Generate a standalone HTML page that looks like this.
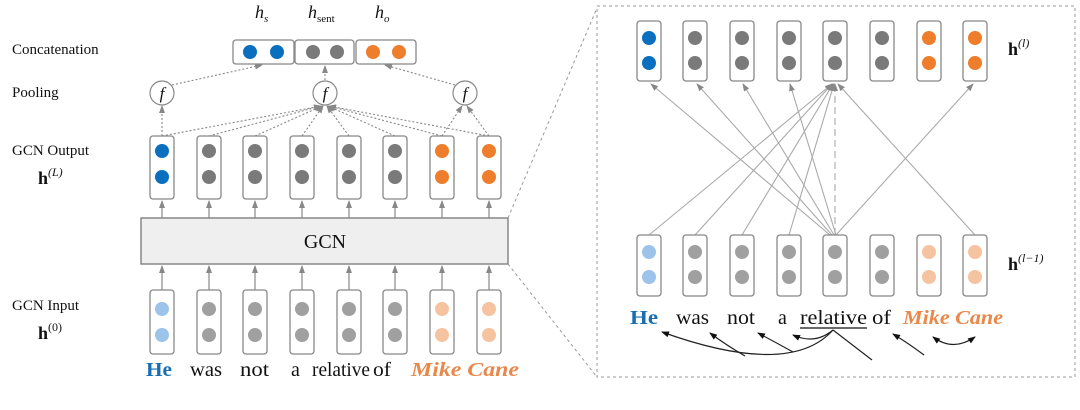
<!DOCTYPE html>
<html><head><meta charset="utf-8"><style>
html,body{margin:0;padding:0;background:#fff;}
svg{display:block;}
text{font-family:"Liberation Serif",serif;fill:#111;}
</style></head><body>
<svg width="1080" height="410" viewBox="0 0 1080 410" xmlns="http://www.w3.org/2000/svg">
<defs>
<marker id="ag" markerWidth="8" markerHeight="8" refX="7" refY="4" orient="auto" markerUnits="userSpaceOnUse"><path d="M0,1 L8,4 L0,7 z" fill="#888"/></marker>
<marker id="ab" markerWidth="8" markerHeight="8" refX="7" refY="4" orient="auto" markerUnits="userSpaceOnUse"><path d="M0,1 L8,4 L0,7 z" fill="#111"/></marker>
<marker id="abs" markerWidth="8" markerHeight="8" refX="1" refY="4" orient="auto" markerUnits="userSpaceOnUse"><path d="M8,1 L0,4 L8,7 z" fill="#111"/></marker>
</defs>

<text x="12" y="54" font-size="15">Concatenation</text>
<text x="12" y="97" font-size="15">Pooling</text>
<text x="12" y="155" font-size="15">GCN Output</text>
<text x="38" y="184" font-size="18" font-weight="bold">h<tspan font-size="12" font-weight="normal" font-style="italic" dy="-8">(L)</tspan></text>
<text x="12" y="310" font-size="15">GCN Input</text>
<text x="38" y="339" font-size="18" font-weight="bold">h<tspan font-size="12" font-weight="normal" dy="-8">(0)</tspan></text>

<text x="255" y="18" font-size="18" font-style="italic">h<tspan font-size="11" dy="4">s</tspan></text>
<text x="308" y="18" font-size="18" font-style="italic">h<tspan font-size="11" font-style="normal" dy="4">sent</tspan></text>
<text x="375" y="18" font-size="18" font-style="italic">h<tspan font-size="11" dy="4">o</tspan></text>

<g stroke="#888" stroke-width="1.3" fill="#fff">
<rect x="233" y="40" width="61" height="24" rx="3"/>
<rect x="295" y="40" width="59" height="24" rx="3"/>
<rect x="356" y="40" width="60" height="24" rx="3"/>
</g>
<g>
<circle cx="250" cy="52" r="7" fill="#0b6fc0"/><circle cx="277" cy="52" r="7" fill="#0b6fc0"/>
<circle cx="313" cy="52" r="7" fill="#7a7a7a"/><circle cx="337" cy="52" r="7" fill="#7a7a7a"/>
<circle cx="373" cy="52" r="7" fill="#ee7d2c"/><circle cx="399" cy="52" r="7" fill="#ee7d2c"/>
</g>

<g stroke="#888" stroke-width="1.1" fill="none" stroke-dasharray="2,2">
<line x1="172" y1="85" x2="262" y2="65" marker-end="url(#ag)"/>
<line x1="325" y1="80" x2="325" y2="66" marker-end="url(#ag)"/>
<line x1="455" y1="85" x2="385" y2="65" marker-end="url(#ag)"/>
<line x1="162" y1="136" x2="162" y2="106" marker-end="url(#ag)"/>
<line x1="162" y1="136" x2="321" y2="106" marker-end="url(#ag)"/>
<line x1="209" y1="136" x2="321" y2="106" marker-end="url(#ag)"/>
<line x1="255" y1="136" x2="322" y2="106" marker-end="url(#ag)"/>
<line x1="302" y1="136" x2="323" y2="106" marker-end="url(#ag)"/>
<line x1="349" y1="136" x2="327" y2="106" marker-end="url(#ag)"/>
<line x1="395" y1="136" x2="328" y2="106" marker-end="url(#ag)"/>
<line x1="442" y1="136" x2="329" y2="106" marker-end="url(#ag)"/>
<line x1="489" y1="136" x2="329" y2="106" marker-end="url(#ag)"/>
<line x1="442" y1="136" x2="462" y2="106" marker-end="url(#ag)"/>
<line x1="489" y1="136" x2="467" y2="106" marker-end="url(#ag)"/>
</g>
<g stroke="#888" stroke-width="1.2" fill="#fff">
<circle cx="162" cy="93" r="12"/><circle cx="325" cy="93" r="12"/><circle cx="465" cy="93" r="12"/>
</g>
<g font-size="17" font-style="italic" text-anchor="middle">
<text x="162" y="99">f</text><text x="325" y="99">f</text><text x="465" y="99">f</text>
</g>

<rect x="141" y="218" width="367" height="46" fill="#efefef" stroke="#777" stroke-width="1.3"/>
<text x="325" y="248" font-size="20" text-anchor="middle">GCN</text>

<g>
<g stroke="#888" stroke-width="1.2">
<line x1="162" y1="218" x2="162" y2="201" marker-end="url(#ag)"/><line x1="209" y1="218" x2="209" y2="201" marker-end="url(#ag)"/>
<line x1="255" y1="218" x2="255" y2="201" marker-end="url(#ag)"/><line x1="302" y1="218" x2="302" y2="201" marker-end="url(#ag)"/>
<line x1="349" y1="218" x2="349" y2="201" marker-end="url(#ag)"/><line x1="395" y1="218" x2="395" y2="201" marker-end="url(#ag)"/>
<line x1="442" y1="218" x2="442" y2="201" marker-end="url(#ag)"/><line x1="489" y1="218" x2="489" y2="201" marker-end="url(#ag)"/>
<line x1="162" y1="290" x2="162" y2="266" marker-end="url(#ag)"/><line x1="209" y1="290" x2="209" y2="266" marker-end="url(#ag)"/>
<line x1="255" y1="290" x2="255" y2="266" marker-end="url(#ag)"/><line x1="302" y1="290" x2="302" y2="266" marker-end="url(#ag)"/>
<line x1="349" y1="290" x2="349" y2="266" marker-end="url(#ag)"/><line x1="395" y1="290" x2="395" y2="266" marker-end="url(#ag)"/>
<line x1="442" y1="290" x2="442" y2="266" marker-end="url(#ag)"/><line x1="489" y1="290" x2="489" y2="266" marker-end="url(#ag)"/>
</g>
<g stroke="#888" stroke-width="1.3" fill="#fff">
<rect x="150" y="136" width="24" height="63" rx="3"/><rect x="197" y="136" width="24" height="63" rx="3"/>
<rect x="243" y="136" width="24" height="63" rx="3"/><rect x="290" y="136" width="24" height="63" rx="3"/>
<rect x="337" y="136" width="24" height="63" rx="3"/><rect x="383" y="136" width="24" height="63" rx="3"/>
<rect x="430" y="136" width="24" height="63" rx="3"/><rect x="477" y="136" width="24" height="63" rx="3"/>
<rect x="150" y="290" width="24" height="64" rx="3"/><rect x="197" y="290" width="24" height="64" rx="3"/>
<rect x="243" y="290" width="24" height="64" rx="3"/><rect x="290" y="290" width="24" height="64" rx="3"/>
<rect x="337" y="290" width="24" height="64" rx="3"/><rect x="383" y="290" width="24" height="64" rx="3"/>
<rect x="430" y="290" width="24" height="64" rx="3"/><rect x="477" y="290" width="24" height="64" rx="3"/>
</g>
<g>
<circle cx="162" cy="151" r="7" fill="#0b6fc0"/><circle cx="162" cy="177" r="7" fill="#0b6fc0"/>
<circle cx="209" cy="151" r="7" fill="#7a7a7a"/><circle cx="209" cy="177" r="7" fill="#7a7a7a"/>
<circle cx="255" cy="151" r="7" fill="#7a7a7a"/><circle cx="255" cy="177" r="7" fill="#7a7a7a"/>
<circle cx="302" cy="151" r="7" fill="#7a7a7a"/><circle cx="302" cy="177" r="7" fill="#7a7a7a"/>
<circle cx="349" cy="151" r="7" fill="#7a7a7a"/><circle cx="349" cy="177" r="7" fill="#7a7a7a"/>
<circle cx="395" cy="151" r="7" fill="#7a7a7a"/><circle cx="395" cy="177" r="7" fill="#7a7a7a"/>
<circle cx="442" cy="151" r="7" fill="#ee7d2c"/><circle cx="442" cy="177" r="7" fill="#ee7d2c"/>
<circle cx="489" cy="151" r="7" fill="#ee7d2c"/><circle cx="489" cy="177" r="7" fill="#ee7d2c"/>
<circle cx="162" cy="309" r="7" fill="#9cc3ea"/><circle cx="162" cy="335" r="7" fill="#9cc3ea"/>
<circle cx="209" cy="309" r="7" fill="#a0a0a0"/><circle cx="209" cy="335" r="7" fill="#a0a0a0"/>
<circle cx="255" cy="309" r="7" fill="#a0a0a0"/><circle cx="255" cy="335" r="7" fill="#a0a0a0"/>
<circle cx="302" cy="309" r="7" fill="#a0a0a0"/><circle cx="302" cy="335" r="7" fill="#a0a0a0"/>
<circle cx="349" cy="309" r="7" fill="#a0a0a0"/><circle cx="349" cy="335" r="7" fill="#a0a0a0"/>
<circle cx="395" cy="309" r="7" fill="#a0a0a0"/><circle cx="395" cy="335" r="7" fill="#a0a0a0"/>
<circle cx="442" cy="309" r="7" fill="#f6c3a0"/><circle cx="442" cy="335" r="7" fill="#f6c3a0"/>
<circle cx="489" cy="309" r="7" fill="#f6c3a0"/><circle cx="489" cy="335" r="7" fill="#f6c3a0"/>
</g>
</g>
<g font-size="20">
<text x="146" y="376" font-weight="bold" style="fill:#1a6eb0" textLength="26" lengthAdjust="spacingAndGlyphs">He</text>
<text x="190" y="376" textLength="32" lengthAdjust="spacingAndGlyphs">was</text>
<text x="240" y="376" textLength="29" lengthAdjust="spacingAndGlyphs">not</text>
<text x="291" y="376">a</text>
<text x="312" y="376" textLength="58" lengthAdjust="spacingAndGlyphs">relative</text>
<text x="373" y="376" textLength="18" lengthAdjust="spacingAndGlyphs">of</text>
<text x="411" y="376" font-weight="bold" font-style="italic" style="fill:#e8884a" textLength="108" lengthAdjust="spacingAndGlyphs">Mike Cane</text>
</g>

<g stroke="#999" stroke-width="1" stroke-dasharray="3,3" fill="none">
<line x1="508" y1="218" x2="597" y2="8"/>
<line x1="508" y1="264" x2="597" y2="377"/>
<rect x="597" y="6" width="478" height="371"/>
</g>

<g stroke="#aaa" stroke-width="1.1" fill="none">
<line x1="830" y1="235" x2="651" y2="84" marker-end="url(#ag)"/>
<line x1="832" y1="235" x2="697" y2="84" marker-end="url(#ag)"/>
<line x1="834" y1="235" x2="743" y2="84" marker-end="url(#ag)"/>
<line x1="836" y1="235" x2="790" y2="84" marker-end="url(#ag)"/>
<line x1="836" y1="235" x2="973" y2="84" marker-end="url(#ag)"/>
<line x1="649" y1="235" x2="832" y2="84" marker-end="url(#ag)"/>
<line x1="695" y1="235" x2="832" y2="84" marker-end="url(#ag)"/>
<line x1="742" y1="235" x2="833" y2="84" marker-end="url(#ag)"/>
<line x1="789" y1="235" x2="834" y2="84" marker-end="url(#ag)"/>
<line x1="975" y1="235" x2="838" y2="84" marker-end="url(#ag)"/>
<line x1="835" y1="235" x2="835" y2="84" stroke-dasharray="7,4" marker-end="url(#ag)"/>
</g>
<g stroke="#888" stroke-width="1.3" fill="#fff">
<rect x="637" y="21" width="24" height="60" rx="3"/><rect x="683" y="21" width="24" height="60" rx="3"/>
<rect x="730" y="21" width="24" height="60" rx="3"/><rect x="777" y="21" width="24" height="60" rx="3"/>
<rect x="823" y="21" width="24" height="60" rx="3"/><rect x="870" y="21" width="24" height="60" rx="3"/>
<rect x="917" y="21" width="24" height="60" rx="3"/><rect x="963" y="21" width="24" height="60" rx="3"/>
<rect x="637" y="235" width="24" height="61" rx="3"/><rect x="683" y="235" width="24" height="61" rx="3"/>
<rect x="730" y="235" width="24" height="61" rx="3"/><rect x="777" y="235" width="24" height="61" rx="3"/>
<rect x="823" y="235" width="24" height="61" rx="3"/><rect x="870" y="235" width="24" height="61" rx="3"/>
<rect x="917" y="235" width="24" height="61" rx="3"/><rect x="963" y="235" width="24" height="61" rx="3"/>
</g>
<g>
<circle cx="649" cy="38" r="7" fill="#0b6fc0"/><circle cx="649" cy="63" r="7" fill="#0b6fc0"/>
<circle cx="695" cy="38" r="7" fill="#7a7a7a"/><circle cx="695" cy="63" r="7" fill="#7a7a7a"/>
<circle cx="742" cy="38" r="7" fill="#7a7a7a"/><circle cx="742" cy="63" r="7" fill="#7a7a7a"/>
<circle cx="789" cy="38" r="7" fill="#7a7a7a"/><circle cx="789" cy="63" r="7" fill="#7a7a7a"/>
<circle cx="835" cy="38" r="7" fill="#7a7a7a"/><circle cx="835" cy="63" r="7" fill="#7a7a7a"/>
<circle cx="882" cy="38" r="7" fill="#7a7a7a"/><circle cx="882" cy="63" r="7" fill="#7a7a7a"/>
<circle cx="929" cy="38" r="7" fill="#ee7d2c"/><circle cx="929" cy="63" r="7" fill="#ee7d2c"/>
<circle cx="975" cy="38" r="7" fill="#ee7d2c"/><circle cx="975" cy="63" r="7" fill="#ee7d2c"/>
<circle cx="649" cy="252" r="7" fill="#9cc3ea"/><circle cx="649" cy="277" r="7" fill="#9cc3ea"/>
<circle cx="695" cy="252" r="7" fill="#a0a0a0"/><circle cx="695" cy="277" r="7" fill="#a0a0a0"/>
<circle cx="742" cy="252" r="7" fill="#a0a0a0"/><circle cx="742" cy="277" r="7" fill="#a0a0a0"/>
<circle cx="789" cy="252" r="7" fill="#a0a0a0"/><circle cx="789" cy="277" r="7" fill="#a0a0a0"/>
<circle cx="835" cy="252" r="7" fill="#a0a0a0"/><circle cx="835" cy="277" r="7" fill="#a0a0a0"/>
<circle cx="882" cy="252" r="7" fill="#a0a0a0"/><circle cx="882" cy="277" r="7" fill="#a0a0a0"/>
<circle cx="929" cy="252" r="7" fill="#f6c3a0"/><circle cx="929" cy="277" r="7" fill="#f6c3a0"/>
<circle cx="975" cy="252" r="7" fill="#f6c3a0"/><circle cx="975" cy="277" r="7" fill="#f6c3a0"/>
</g>
<text x="1008" y="55" font-size="18" font-weight="bold">h<tspan font-size="12" font-weight="normal" font-style="italic" dy="-8">(l)</tspan></text>
<text x="1008" y="270" font-size="18" font-weight="bold">h<tspan font-size="12" font-weight="normal" font-style="italic" dy="-8">(l−1)</tspan></text>

<g font-size="20">
<text x="630" y="324" font-weight="bold" style="fill:#1a6eb0" textLength="28" lengthAdjust="spacingAndGlyphs">He</text>
<text x="676" y="324" textLength="33" lengthAdjust="spacingAndGlyphs">was</text>
<text x="727" y="324" textLength="28" lengthAdjust="spacingAndGlyphs">not</text>
<text x="778" y="324">a</text>
<text x="800" y="324" textLength="67" lengthAdjust="spacingAndGlyphs">relative</text>
<text x="872" y="324" textLength="19" lengthAdjust="spacingAndGlyphs">of</text>
<text x="903" y="324" font-weight="bold" font-style="italic" style="fill:#e8884a" textLength="100" lengthAdjust="spacingAndGlyphs">Mike Cane</text>
</g>
<line x1="800" y1="328" x2="867" y2="328" stroke="#111" stroke-width="1.3"/>

<g stroke="#222" stroke-width="1.2" fill="none">
<path d="M833,330 Q790,378 662,332" marker-end="url(#ab)"/>
<path d="M745,356 Q726,345 710,333" marker-end="url(#ab)"/>
<path d="M793,352 Q775,342 758,333" marker-end="url(#ab)"/>
<path d="M833,330 Q815,345 793,335" marker-end="url(#ab)"/>
<path d="M833,330 L872,360"/>
<path d="M924,355 Q908,343 893,334" marker-end="url(#ab)"/>
<path d="M933,337 Q953,352 975,337" marker-start="url(#abs)" marker-end="url(#ab)"/>
</g>
</svg>
</body></html>
